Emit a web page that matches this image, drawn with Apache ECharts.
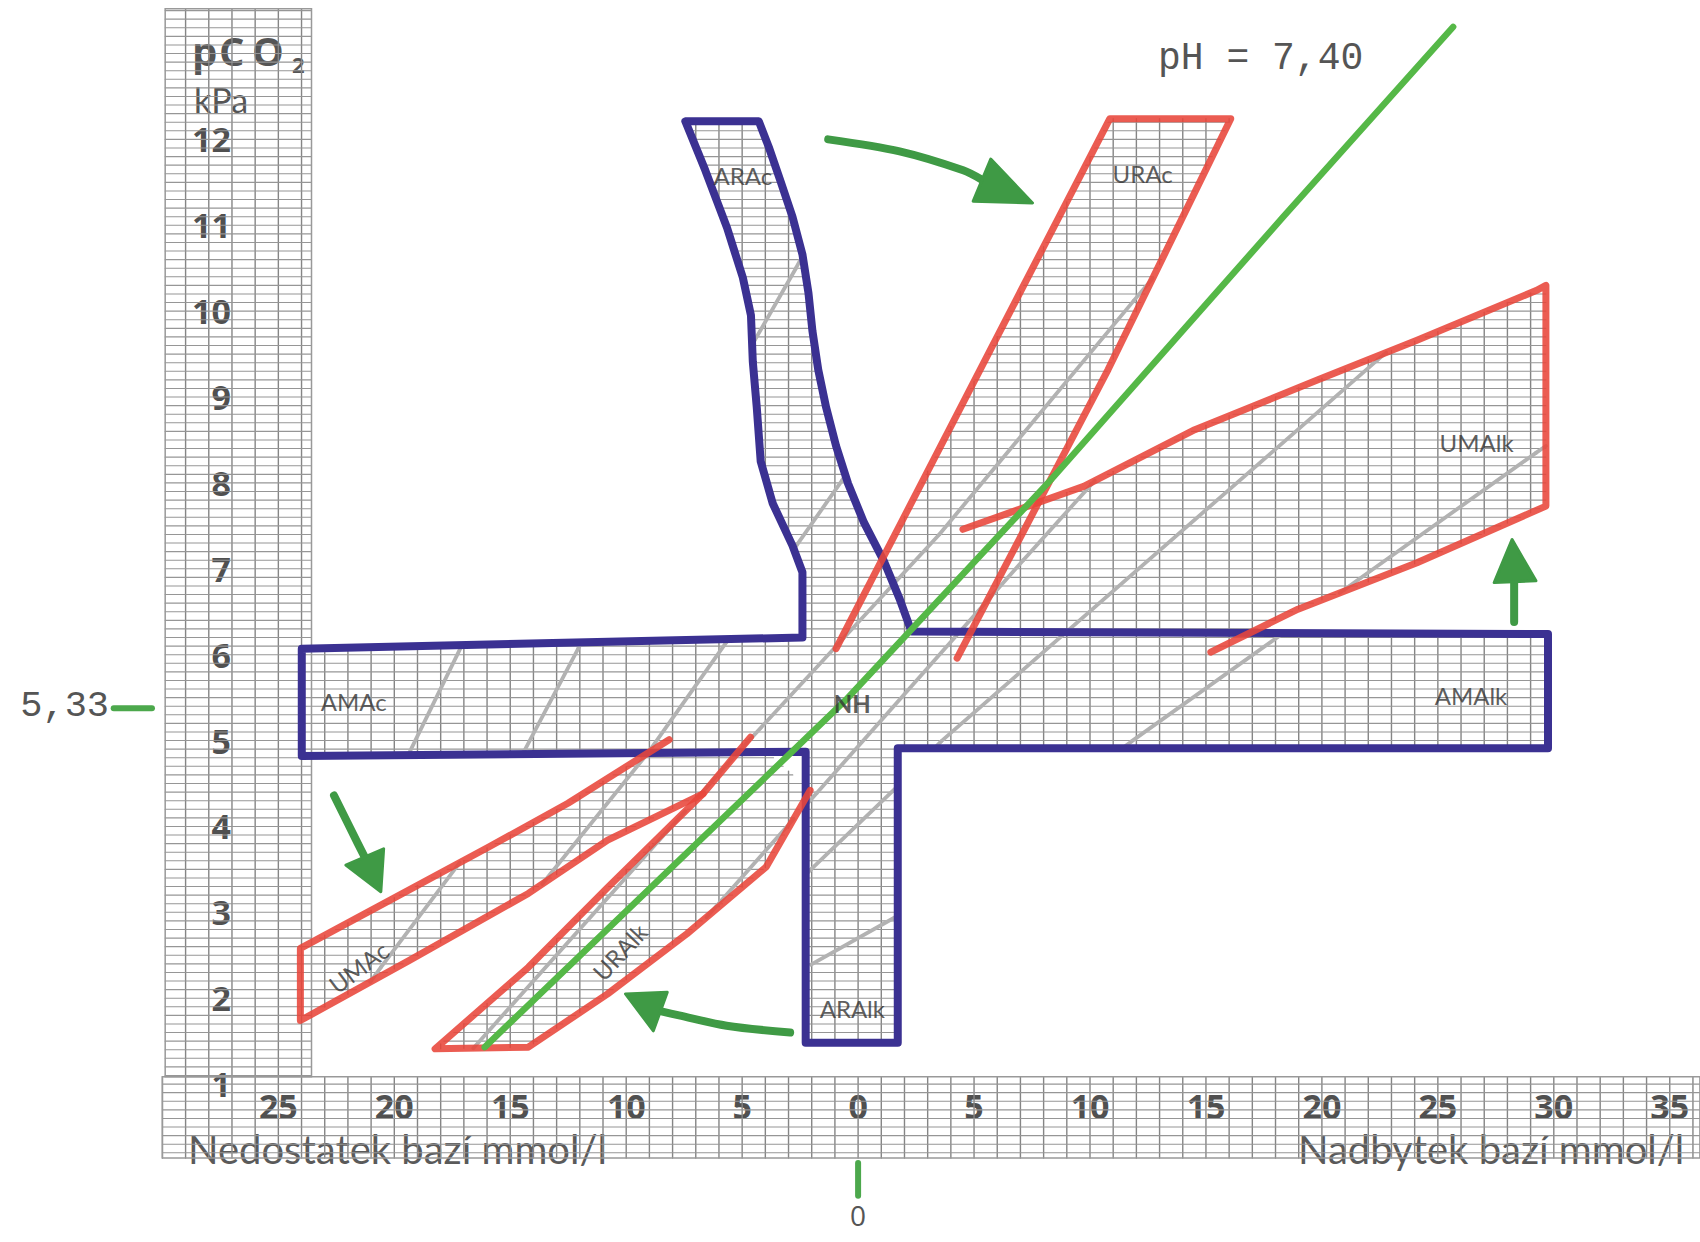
<!DOCTYPE html>
<html>
<head>
<meta charset="utf-8">
<script src="https://cdn.jsdelivr.net/npm/echarts@6/dist/echarts.min.js"></script>
<style>
html,body{margin:0;padding:0;background:#ffffff;}
#chart{width:1700px;height:1242px;}
</style>
</head>
<body>
<div id="chart"></div>
<script>
// ===== DATA: x = base excess (mmol/l, negative = deficit), y = pCO2 (kPa) =====
const xTicks = [-25, -20, -15, -10, -5, 0, 5, 10, 15, 20, 25, 30, 35];
const yTicks = [1, 2, 3, 4, 5, 6, 7, 8, 9, 10, 11, 12];

// blue outline: AMAc + NH + AMAlk band with ARAc (up) and ARAlk (down) arms
const blueZone = [[-23.99,6.07],[-2.40,6.20],[-2.40,6.96],[-2.83,7.27],[-3.68,7.76],[-4.20,8.25],[-4.37,8.88],[-4.54,9.41],[-4.62,9.95],[-4.97,10.39],[-5.65,10.97],[-6.59,11.64],[-7.45,12.21],[-4.28,12.21],[-3.85,11.91],[-3.34,11.51],[-2.83,11.10],[-2.40,10.66],[-2.14,10.21],[-1.97,9.77],[-1.72,9.32],[-1.38,8.88],[-0.95,8.43],[-0.43,7.99],[0.25,7.54],[1.11,7.09],[1.79,6.65],[2.30,6.27],[29.75,6.24],[29.75,4.91],[1.71,4.91],[1.71,1.48],[-2.26,1.48],[-2.26,4.87],[-23.99,4.82]];
// red outlines (open edges) + points closing the hatched area
const uracEdge = [[-0.95,6.07],[10.85,12.24],[16.07,12.24],[10.78,9.32],[4.27,5.96]];
const umalkEdge = [[4.52,7.46],[9.73,7.96],[14.52,8.62],[19.83,9.20],[24.10,9.66],[29.24,10.24],[29.66,10.30],[29.66,7.73],[24.10,7.07],[18.97,6.53],[15.21,6.03]];
const umalkClose = [[4.20,6.03]];
const umacEdge = [[-8.15,5.01],[-12.51,4.27],[-15.93,3.76],[-20.20,3.14],[-24.05,2.58],[-24.05,1.74],[-19.35,2.44],[-14.22,3.22],[-10.80,3.84],[-6.69,4.38]];
const umacClose = [[-4.64,5.04]];
const uralkEdge = [[-4.64,5.04],[-6.69,4.38],[-10.80,3.29],[-14.22,2.36],[-18.24,1.41],[-14.22,1.43],[-10.80,2.05],[-7.38,2.75],[-3.96,3.53],[-2.07,4.42]];
// graph-paper axis strips
const stripY = [[-29.88,1.086],[-23.57,1.086],[-23.57,13.52],[-29.88,13.52]];
const stripX = [[-30.0,0.14],[36.3,0.14],[36.3,1.086],[-30.0,1.086]];

// gray printed lines of the paper
const grayLines = [
  [[-21.56,3.64],[-15.02,7.25]],
  [[-22.03,1.82],[-20.58,2.36],[-16.98,3.65],[-14.41,4.87],[-12.07,6.07],[-4.46,9.66],[-2.68,10.50],[-1.00,11.35]],
  [[-13.62,3.33],[-9.08,4.85],[-5.67,6.15],[-2.66,7.27],[-0.69,8.03],[1.34,8.89]],
  [[-17.35,1.19],[-5.49,4.77],[3.50,7.40],[11.88,10.12],[13.26,10.56]],
  [[-6.61,2.92],[-1.78,4.39],[7.12,7.10],[10.22,8.03]],
  [[-5.20,2.64],[-2.03,3.50],[1.71,4.47],[3.58,4.99],[22.39,9.43],[25.17,10.06]],
  [[-2.03,2.39],[1.71,2.96],[11.79,4.99],[29.23,8.35],[30.31,8.55]]
];

// pH = 7.40 line
const phLine = [[-16.10,1.43],[-0.54,5.47],[8.29,8.03],[18.34,11.10],[25.66,13.31]];

// green arrows
const arrowShafts = [
  [[-1.29,12.00],[1.79,11.86],[4.53,11.64],[5.34,11.53]],
  [[-22.60,4.36],[-21.57,3.80],[-21.28,3.645]],
  [[-2.93,1.60],[-5.67,1.68],[-7.72,1.80],[-8.53,1.85]],
  [[28.29,6.38],[28.29,6.85]]
];
const arrowHeads = [
  [[5.72,11.77],[7.52,11.26],[4.96,11.28]],
  [[-22.09,3.55],[-20.46,3.74],[-20.58,3.24]],
  [[-10.03,2.05],[-8.23,2.07],[-8.83,1.62]],
  [[28.20,7.34],[27.43,6.84],[29.23,6.86]]
];

// reference marks
const refPCO2 = 5.33;
const refPCO2Text = '5,33';
const refBE = 0;

// region labels: name, BE, pCO2
const regionNames = ['ARAc','URAc','AMAc','NH','AMAlk','UMAlk','ARAlk','UMAc','URAlk'];
const regionBE    = [-4.97, 12.27, -21.75, -0.25, 26.43, 26.67, -0.25, -21.54, -10.28];
const regionPCO2  = [11.58, 11.60, 5.45, 5.43, 5.53, 8.47, 1.88, 2.36, 2.54];

// ===== helpers =====
const hatchZones = [blueZone, uracEdge, umalkEdge.concat(umalkClose), umacEdge.concat(umacClose), uralkEdge, stripY, stripX];

function pip(x, y, poly) {
  let c = false;
  for (let i = 0, j = poly.length - 1; i < poly.length; j = i++) {
    const xi = poly[i][0], yi = poly[i][1], xj = poly[j][0], yj = poly[j][1];
    if ((yi > y) !== (yj > y) && x < (xj - xi) * (y - yi) / (yj - yi) + xi) c = !c;
  }
  return c;
}
function clipSegment(P, Q, polys) {
  const ts = [0, 1];
  const dx = Q[0] - P[0], dy = Q[1] - P[1];
  for (const poly of polys) {
    for (let j = 0; j < poly.length; j++) {
      const A = poly[j], B = poly[(j + 1) % poly.length];
      const ex = B[0] - A[0], ey = B[1] - A[1];
      const den = dx * ey - dy * ex;
      if (Math.abs(den) < 1e-12) continue;
      const wx = A[0] - P[0], wy = A[1] - P[1];
      const t = (wx * ey - wy * ex) / den;
      const u = (wx * dy - wy * dx) / den;
      if (t > 0 && t < 1 && u >= 0 && u <= 1) ts.push(t);
    }
  }
  ts.sort((a, b) => a - b);
  const out = [];
  let start = null;
  for (let i = 0; i < ts.length - 1; i++) {
    const t0 = ts[i], t1 = ts[i + 1];
    if (t1 - t0 < 1e-9) continue;
    const tm = (t0 + t1) / 2;
    const inside = polys.some(pl => pip(P[0] + dx * tm, P[1] + dy * tm, pl));
    if (inside) { if (start === null) start = t0; }
    else if (start !== null) { out.push([start, t0]); start = null; }
  }
  if (start !== null) out.push([start, 1]);
  return out.map(([a, b]) => [[P[0] + dx * a, P[1] + dy * a], [P[0] + dx * b, P[1] + dy * b]]);
}
function segEl(api, s, stroke, w) {
  const a = api.coord(s[0]), b = api.coord(s[1]);
  return {type: 'line', silent: true, shape: {x1: a[0], y1: a[1], x2: b[0], y2: b[1]}, style: {stroke: stroke, lineWidth: w, lineCap: 'round'}};
}
function pts(api, arr) { return arr.map(p => api.coord(p)); }

// ===== render functions =====
function renderPaper(params, api) {
  const children = [];
  for (let be = -30; be <= 36; be++) {
    clipSegment([be, -0.5], [be, 14], hatchZones).forEach(s => children.push(segEl(api, s, '#858585', 1.4)));
  }
  for (let k = 1; k <= 136; k++) {
    const p = k / 10;
    clipSegment([-31, p], [37, p], hatchZones).forEach(s => children.push(segEl(api, s, '#969696', 1.1)));
  }
  [stripY, stripX].forEach(z => children.push({type: 'polygon', silent: true, shape: {points: pts(api, z)}, style: {fill: 'none', stroke: '#999999', lineWidth: 1.5}}));
  return {type: 'group', children: children};
}
function renderGray(params, api) {
  const children = [];
  grayLines.forEach(line => {
    for (let i = 0; i < line.length - 1; i++) {
      clipSegment(line[i], line[i + 1], hatchZones).forEach(s => children.push(segEl(api, s, '#b2b2b2', 3.8)));
    }
  });
  return {type: 'group', children: children};
}
function renderBlue(params, api) {
  return {type: 'polygon', silent: true, shape: {points: pts(api, blueZone)}, style: {fill: 'none', stroke: '#3b3192', lineWidth: 8, lineJoin: 'round'}};
}
function renderRed(params, api) {
  const children = [uracEdge, umalkEdge, umacEdge, uralkEdge].map(e => ({
    type: 'polyline', silent: true, shape: {points: pts(api, e)},
    style: {fill: 'none', stroke: 'rgba(232,70,58,0.88)', lineWidth: 7, lineJoin: 'round', lineCap: 'round'}
  }));
  return {type: 'group', children: children};
}
function renderArrows(params, api) {
  const children = [];
  arrowShafts.forEach(s => children.push({type: 'polyline', silent: true, shape: {points: pts(api, s), smooth: 0.3},
    style: {fill: 'none', stroke: '#3f9a45', lineWidth: 8, lineCap: 'round', lineJoin: 'round'}}));
  arrowHeads.forEach(h => children.push({type: 'polygon', silent: true, shape: {points: pts(api, h)},
    style: {fill: '#3f9a45', stroke: '#3f9a45', lineWidth: 3, lineJoin: 'round'}}));
  // reference marks
  const a = api.coord([-32.1, refPCO2]), b = api.coord([-30.45, refPCO2]);
  children.push({type: 'line', silent: true, shape: {x1: a[0], y1: a[1] - 4, x2: b[0], y2: b[1] - 4}, style: {stroke: '#4ca84c', lineWidth: 6, lineCap: 'round'}});
  const t = api.coord([-32.3, refPCO2]);
  children.push({type: 'text', silent: true, x: t[0], y: t[1] - 6, style: {text: refPCO2Text, font: '37px "Liberation Mono", "DejaVu Sans Mono", monospace', lineHeight: 34, fill: '#555555', textAlign: 'right', textVerticalAlign: 'middle'}});
  const c = api.coord([refBE, 0.08]), d = api.coord([refBE, -0.30]);
  children.push({type: 'line', silent: true, shape: {x1: c[0], y1: c[1], x2: d[0], y2: d[1]}, style: {stroke: '#4ca84c', lineWidth: 6, lineCap: 'round'}});
  const e = api.coord([refBE, -0.52]);
  children.push({type: 'text', silent: true, x: e[0], y: e[1], style: {text: String(refBE), font: '28px "Open Sans", Lato, sans-serif', lineHeight: 24, fill: '#555555', textAlign: 'center', textVerticalAlign: 'middle'}});
  return {type: 'group', children: children};
}

const labelAngle = {UMAc: 37, URAlk: 47};
const labelData = regionNames.map((n, i) => ({
  name: n, value: [regionBE[i], regionPCO2[i]],
  label: {rotate: labelAngle[n] || 0, fontWeight: n === 'NH' ? 'bold' : 'normal'}
}));

const chart = echarts.init(document.getElementById('chart'), null, {renderer: 'svg'});
const option = {
  animation: false,
  backgroundColor: '#ffffff',
  grid: {left: 46.45, right: 30.25, top: 53.52, bottom: 72.04},
  xAxis: {
    type: 'value', min: -35, max: 35, interval: 5, offset: -78,
    axisLine: {show: false}, axisTick: {show: false}, splitLine: {show: false},
    axisLabel: {margin: 0, color: '#505050', fontFamily: '"Open Sans"', fontWeight: 'bold', fontSize: 34, lineHeight: 28,
      formatter: v => xTicks.indexOf(v) >= 0 ? String(Math.abs(v)) : ''}
  },
  yAxis: {
    type: 'value', min: 0, max: 13, interval: 1, offset: -188.55,
    axisLine: {show: false}, axisTick: {show: false}, splitLine: {show: false},
    axisLabel: {margin: 4, color: '#505050', fontFamily: '"Open Sans"', fontWeight: 'bold', fontSize: 34, lineHeight: 28,
      formatter: v => yTicks.indexOf(v) >= 0 ? String(v) : ''}
  },
  graphic: [
    {type: 'text', x: 192, y: 50, style: {text: 'p', font: 'bold 40px "Open Sans", sans-serif', lineHeight: 34, fill: '#555555', textAlign: 'left', textVerticalAlign: 'middle'}},
    {type: 'text', x: 219, y: 50, style: {text: 'C', font: 'bold 40px "Open Sans", sans-serif', lineHeight: 34, fill: '#555555', textAlign: 'left', textVerticalAlign: 'middle'}},
    {type: 'text', x: 252, y: 50, style: {text: 'O', font: 'bold 40px "Open Sans", sans-serif', lineHeight: 34, fill: '#555555', textAlign: 'left', textVerticalAlign: 'middle'}},
    {type: 'text', x: 292, y: 64, style: {text: '2', font: 'bold 22px "Open Sans", sans-serif', lineHeight: 20, fill: '#555555', textAlign: 'left', textVerticalAlign: 'middle'}},
    {type: 'text', x: 194, y: 99, style: {text: 'kPa', font: '34px Lato, sans-serif', lineHeight: 28, fill: '#555555', textAlign: 'left', textVerticalAlign: 'middle'}},
    {type: 'text', x: 1158, y: 58, style: {text: 'pH = 7,40', font: '38px "Liberation Mono", "DejaVu Sans Mono", monospace', lineHeight: 34, fill: '#555555', textAlign: 'left', textVerticalAlign: 'middle'}},
    {type: 'text', x: 188, y: 1149, style: {text: 'Nedostatek bazí mmol/l', font: '40px Lato, sans-serif', lineHeight: 30, fill: '#5a5a5a', textAlign: 'left', textVerticalAlign: 'middle'}},
    {type: 'text', x: 1298, y: 1149, style: {text: 'Nadbytek bazí mmol/l', font: '40px Lato, sans-serif', lineHeight: 30, fill: '#5a5a5a', textAlign: 'left', textVerticalAlign: 'middle'}}
  ],
  series: [
    {type: 'custom', name: 'paper', data: [0], renderItem: renderPaper, z: 1, silent: true, clip: false},
    {type: 'custom', name: 'isolines', data: [0], renderItem: renderGray, z: 2, silent: true, clip: false},
    {type: 'custom', name: 'acute', data: [0], renderItem: renderBlue, z: 3, silent: true, clip: false},
    {type: 'custom', name: 'chronic', data: [0], renderItem: renderRed, z: 4, silent: true, clip: false},
    {type: 'line', name: 'pH 7.40', data: phLine, symbol: 'none', z: 6, silent: true, clip: false,
      lineStyle: {color: '#55b847', width: 6.5, cap: 'round'}},
    {type: 'custom', name: 'arrows', data: [0], renderItem: renderArrows, z: 7, silent: true, clip: false},
    {type: 'scatter', name: 'labels', data: labelData, symbolSize: 1, itemStyle: {color: 'rgba(0,0,0,0)'}, z: 8, silent: true,
      label: {show: true, position: 'inside', formatter: '{b}', color: '#333333', fontFamily: 'Lato', fontSize: 24}}
  ]
};
chart.setOption(option);
</script>
</body>
</html>
